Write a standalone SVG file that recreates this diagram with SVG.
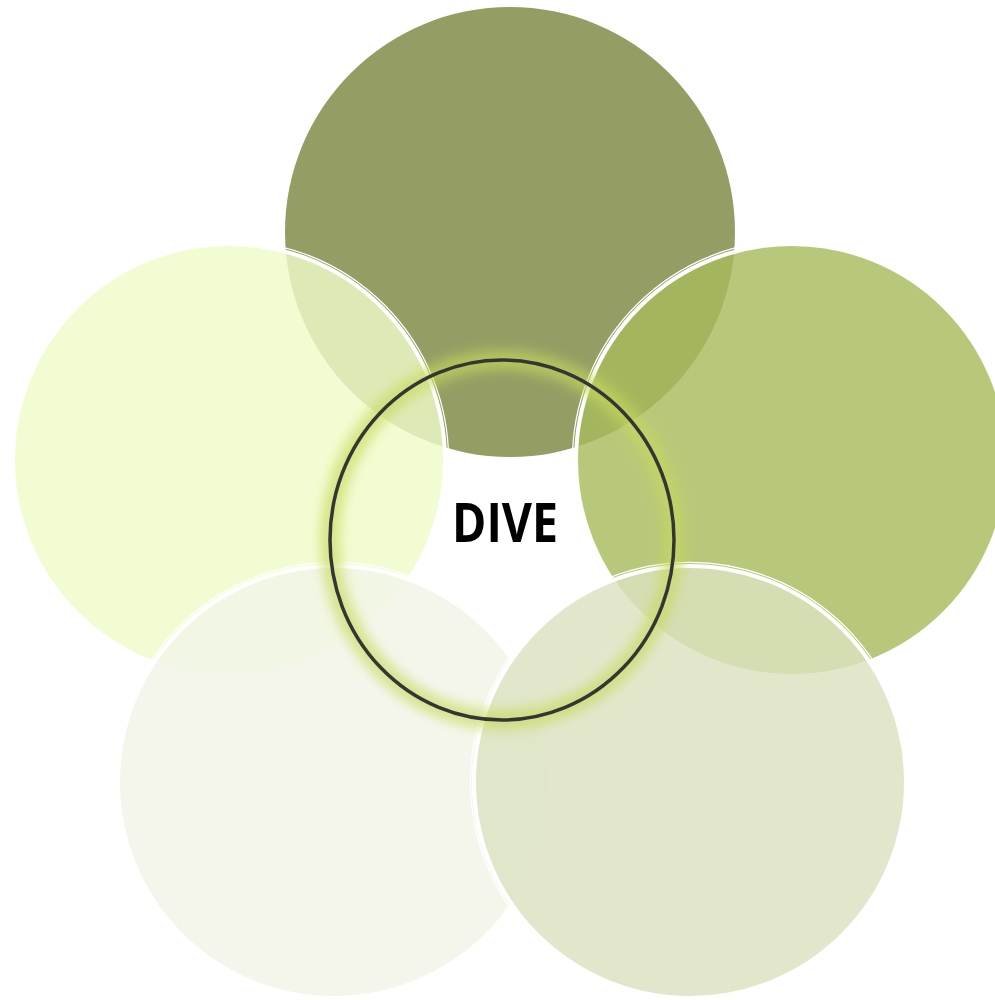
<svg xmlns="http://www.w3.org/2000/svg" width="995" height="1000" viewBox="0 0 995 1000">
<defs>
<filter id="glow" x="-30%" y="-30%" width="160%" height="160%"><feGaussianBlur stdDeviation="6"/></filter>
<filter id="soft" x="-10%" y="-10%" width="120%" height="120%"><feGaussianBlur stdDeviation="0.6"/></filter>
<style>
.fill{fill-opacity:0.81;stroke:none}
.thick{fill:none;stroke:#ffffff;stroke-width:4}
.thin{fill:none;stroke:#ffffff;stroke-width:1.2}
.lbl{font-family:"Open Sans",Lato,"Liberation Sans",sans-serif;font-weight:bold;font-size:53px;fill:#000000}
</style>
</defs>
<rect x="0" y="0" width="995" height="1000" fill="#ffffff"/>
<g id="node-top">
<circle cx="510" cy="232" r="225" fill="#949e64"/>
</g>
<g id="node-left">
<circle class="fill" cx="229" cy="460" r="215" fill="#effbc7"/>
<circle class="thick" cx="229" cy="460" r="216"/>
<circle class="thin" cx="229" cy="460" r="219.6"/>
</g>
<g id="node-right">
<circle class="fill" cx="792" cy="460" r="215" fill="#a7bb5b"/>
<circle class="thick" cx="792" cy="460" r="216"/>
<circle class="thin" cx="792" cy="460" r="219.6"/>
</g>
<g id="node-bottom-left">
<circle class="fill" cx="334" cy="782" r="215" fill="#f1f4e8"/>
<circle class="thick" cx="334" cy="782" r="216"/>
<circle class="thin" cx="334" cy="782" r="219.6"/>
</g>
<g id="node-bottom-right">
<circle class="fill" cx="690" cy="782" r="215" fill="#dbe2c0"/>
<circle class="thick" cx="690" cy="782" r="216"/>
<circle class="thin" cx="690" cy="782" r="219.6"/>
</g>
<g id="node-center">
<ellipse cx="502" cy="540" rx="172" ry="180" fill="none" stroke="#c6da5c" stroke-width="20" opacity="0.65" filter="url(#glow)"/>
<ellipse cx="502" cy="540" rx="172" ry="180" fill="none" stroke="#353535" stroke-width="3.5" filter="url(#soft)"/>
<text class="lbl" x="505" y="542" text-anchor="middle" textLength="106" lengthAdjust="spacingAndGlyphs">DIVE</text>
</g>
</svg>
